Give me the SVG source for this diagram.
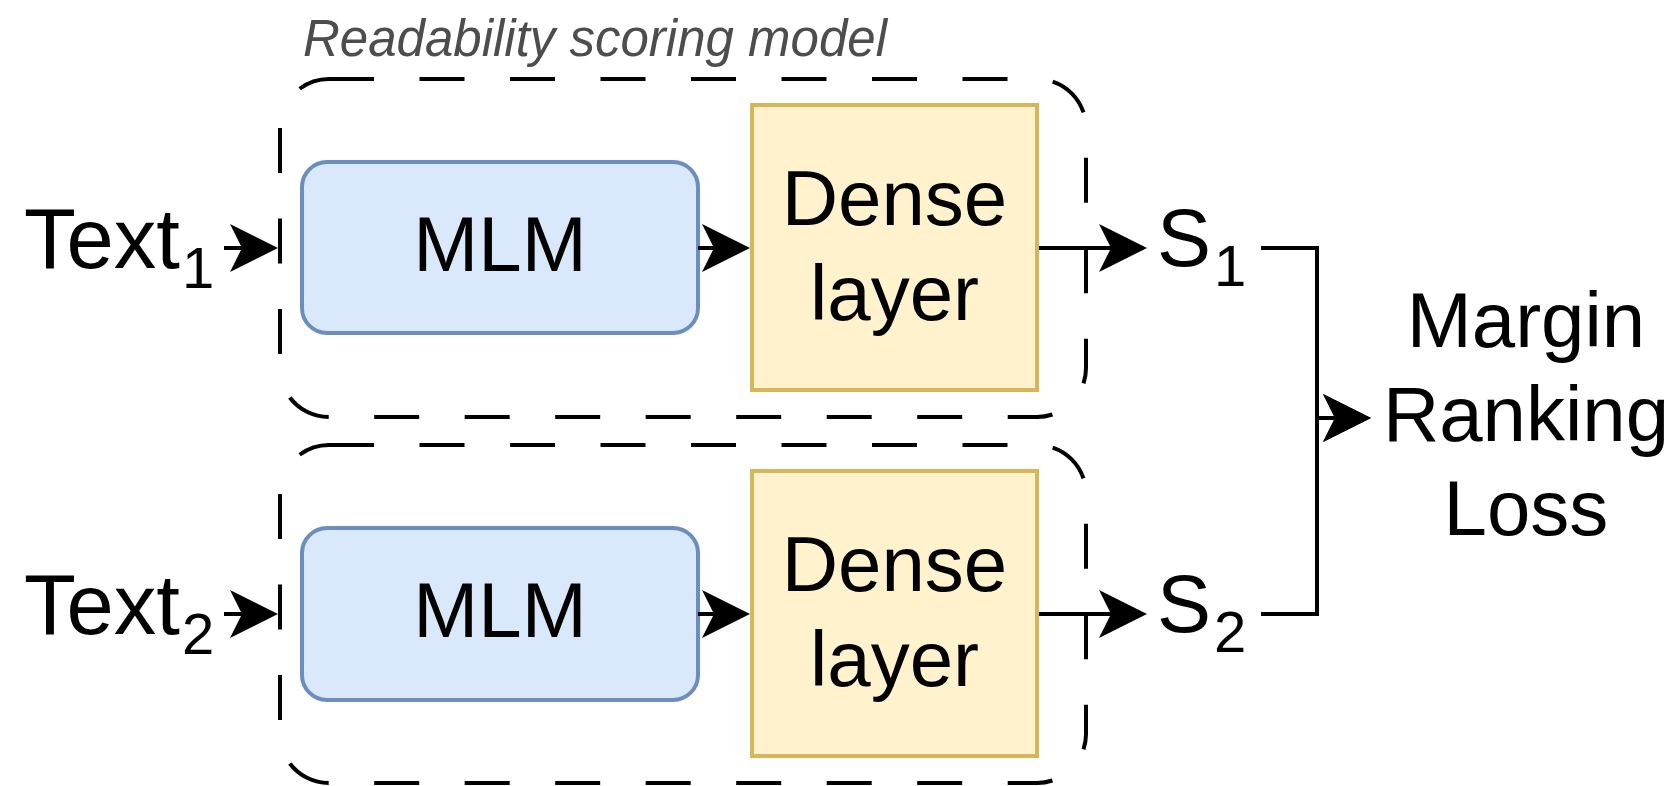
<svg xmlns="http://www.w3.org/2000/svg" width="1679" height="786" viewBox="0 0 1679 786">
<style>
  .t{font-family:"Liberation Sans",Arial,Helvetica,sans-serif;fill:#000;font-size:78px}
  .tx{font-size:85px}
  .sx{font-size:81px}
  .c{text-anchor:middle}
  .sub{font-size:58px}
  .mlm{fill:#dae8fc;stroke:#6c8ebf;stroke-width:4}
  .dense{fill:#fff2cc;stroke:#d6b656;stroke-width:4}
  .cont{fill:none;stroke:#000;stroke-width:4;stroke-dasharray:45 45.5;stroke-dashoffset:0}
  .edge{fill:none;stroke:#000;stroke-width:4}
  .title{font-family:"Liberation Sans",Arial,Helvetica,sans-serif;font-style:italic;font-size:51px;fill:#4d4d4d}
</style>
<defs>
  <marker id="arr" markerUnits="userSpaceOnUse" viewBox="0 0 48 48" markerWidth="48" markerHeight="48" refX="12" refY="24" orient="auto">
    <path d="M0,0 L48,24 L0,48 L12,24 Z" fill="#000"/>
  </marker>
</defs>
<rect width="1679" height="786" fill="#fff"/>

<g id="container-top">
  <path class="cont" d="M329,79 H1037 A49,49 0 0 1 1086,128 V368 A49,49 0 0 1 1037,417 H329 A49,49 0 0 1 280,368 V128 A49,49 0 0 1 329,79 Z"/>
  <text class="title" x="303" y="56">Readability scoring model</text>
</g>
<g id="container-bottom">
  <path class="cont" d="M329,445 H1037 A49,49 0 0 1 1086,494 V734 A49,49 0 0 1 1037,783 H329 A49,49 0 0 1 280,734 V494 A49,49 0 0 1 329,445 Z"/>
</g>

<g id="text1"><text class="t tx" x="24" y="268">Text<tspan class="sub" x="182" dy="20">1</tspan></text></g>
<g id="text2"><text class="t tx" x="24" y="634">Text<tspan class="sub" x="182" dy="20">2</tspan></text></g>

<g id="mlm1">
  <rect class="mlm" x="302" y="162" width="396" height="171" rx="25"/>
  <text class="t c" x="500" y="271">MLM</text>
</g>
<g id="mlm2">
  <rect class="mlm" x="302" y="528" width="396" height="172" rx="25"/>
  <text class="t c" x="500" y="637">MLM</text>
</g>

<g id="dense1">
  <rect class="dense" x="752" y="105" width="285" height="285"/>
  <text class="t c" x="894.5" y="225">Dense</text>
  <text class="t c" x="894.5" y="320">layer</text>
</g>
<g id="dense2">
  <rect class="dense" x="752" y="471" width="285" height="285"/>
  <text class="t c" x="894.5" y="591">Dense</text>
  <text class="t c" x="894.5" y="686">layer</text>
</g>

<g id="s1"><text class="t sx" x="1157" y="266">S<tspan class="sub" x="1214" dy="20">1</tspan></text></g>
<g id="s2"><text class="t sx" x="1157" y="632">S<tspan class="sub" x="1214" dy="20">2</tspan></text></g>

<g id="loss">
  <text class="t c" x="1526" y="347">Margin</text>
  <text class="t c" x="1526" y="441">Ranking</text>
  <text class="t c" x="1526" y="535">Loss</text>
</g>

<g id="connectors">
  <path class="edge" marker-end="url(#arr)" d="M224,248 H242"/>
  <path class="edge" marker-end="url(#arr)" d="M698,248 H714"/>
  <path class="edge" marker-end="url(#arr)" d="M1039,248 H1111"/>
  <path class="edge" marker-end="url(#arr)" d="M1261,248 H1317 V418 H1335"/>
  <path class="edge" marker-end="url(#arr)" d="M224,614 H242"/>
  <path class="edge" marker-end="url(#arr)" d="M698,614 H714"/>
  <path class="edge" marker-end="url(#arr)" d="M1039,614 H1111"/>
  <path class="edge" marker-end="url(#arr)" d="M1261,614 H1317 V418 H1335"/>
</g>
</svg>
